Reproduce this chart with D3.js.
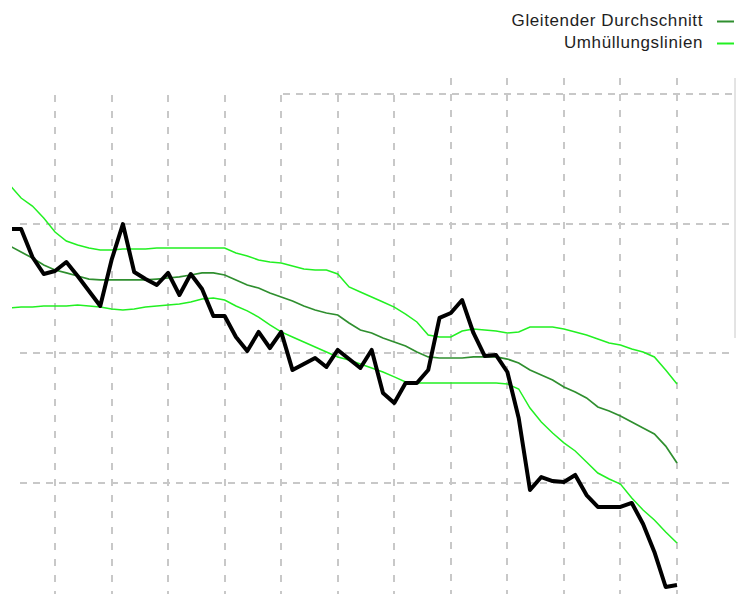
<!DOCTYPE html>
<html>
<head>
<meta charset="utf-8">
<script src="https://cdn.jsdelivr.net/npm/d3@7"></script>
<style>
  html, body { margin: 0; padding: 0; background: #fff; }
  svg { display: block; }
</style>
</head>
<body>
<svg id="chart" width="736" height="594"></svg>
<script>
// Closing prices, one per trading period
const price = [
  29.59, 29.59, 27.43, 26.12, 26.35, 27.04, 25.96, 24.81, 23.65, 27.20,
  29.97, 26.27, 25.73, 25.27, 26.20, 24.50, 26.12, 24.96, 22.88, 22.88,
  21.26, 20.18, 21.65, 20.41, 21.65, 18.71, 19.18, 19.64, 18.95, 20.26,
  19.56, 18.87, 20.26, 16.94, 16.17, 17.71, 17.71, 18.71, 22.73, 23.11,
  24.11, 21.57, 19.79, 19.87, 18.56, 15.01, 9.46, 10.46, 10.15, 10.08,
  10.62, 9.07, 8.15, 8.15, 8.15, 8.46, 6.84, 4.68, 1.98, 2.13
];

// Moving average ("Gleitender Durchschnitt")
const movingAverage = [
  28.28, 27.81, 27.35, 26.81, 26.43, 26.20, 25.96, 25.73, 25.66, 25.66,
  25.66, 25.66, 25.66, 25.73, 25.81, 25.89, 26.04, 26.20, 26.20, 26.04,
  25.66, 25.27, 25.04, 24.65, 24.34, 24.04, 23.65, 23.34, 23.11, 22.96,
  22.34, 21.80, 21.57, 21.18, 20.87, 20.57, 20.10, 19.72, 19.64, 19.64,
  19.64, 19.72, 19.72, 19.72, 19.56, 19.25, 18.71, 18.33, 17.94, 17.40,
  17.02, 16.56, 15.86, 15.55, 15.17, 14.70, 14.24, 13.78, 12.85, 11.54
];

// Envelope bands ("Umhüllungslinien")
const upperEnvelope = [
  32.98, 31.98, 31.36, 30.44, 29.36, 28.66, 28.35, 28.12, 27.97, 27.97,
  28.05, 28.05, 28.05, 28.12, 28.12, 28.12, 28.12, 28.12, 28.12, 28.12,
  27.74, 27.51, 27.20, 27.04, 26.97, 26.74, 26.50, 26.43, 26.43, 26.12,
  25.12, 24.73, 24.34, 23.96, 23.57, 23.03, 22.42, 21.41, 21.26, 21.26,
  21.72, 21.88, 21.80, 21.72, 21.57, 21.65, 22.03, 22.03, 22.03, 21.88,
  21.65, 21.41, 21.11, 20.80, 20.64, 20.33, 20.10, 19.72, 18.71, 17.64
];
const lowerEnvelope = [
  23.50, 23.57, 23.57, 23.65, 23.65, 23.65, 23.73, 23.65, 23.57, 23.42,
  23.34, 23.42, 23.57, 23.65, 23.73, 23.80, 23.96, 24.19, 24.27, 24.11,
  23.65, 23.27, 22.80, 22.19, 21.65, 21.26, 20.87, 20.49, 20.10, 19.72,
  19.49, 19.18, 18.87, 18.56, 18.18, 17.79, 17.71, 17.71, 17.71, 17.71,
  17.71, 17.71, 17.71, 17.71, 17.64, 17.25, 15.78, 14.70, 13.86, 13.09,
  12.47, 11.62, 10.77, 10.31, 9.92, 8.84, 7.92, 7.15, 6.22, 5.37
];

// Period positions where the vertical grid lines sit, and value grid levels
const xGridTicks = [4, 9, 14, 19, 24, 29, 34, 39, 44, 49, 54, 59];
const yGridTicks = [40, 30, 20, 10];

const legendLabels = ["Gleitender Durchschnitt", "Umhüllungslinien"];
const legendColors = ["#2f8f2f", "#22f022"];

const svg = d3.select("#chart");

const x = d3.scaleLinear().domain([0, price.length - 1]).range([9.8, 677]);
const y = d3.scaleLinear().domain([10, 40]).range([483, 94]);

// Grid
const grid = svg.append("g").attr("class", "grid")
  .attr("stroke", "#c8c8c8").attr("stroke-width", 2).attr("fill", "none");

grid.selectAll("line.v").data(xGridTicks).join("line")
  .attr("class", "v")
  .attr("x1", d => Math.round(x(d))).attr("x2", d => Math.round(x(d)))
  .attr("y1", d => x(d) > 440 ? 78 : 95)
  .attr("y2", 594)
  .attr("stroke-dasharray", "7,9");

grid.selectAll("line.h").data(yGridTicks).join("line")
  .attr("class", "h")
  .attr("x1", d => d === 40 ? 283 : 20).attr("x2", 734)
  .attr("y1", d => Math.round(y(d))).attr("y2", d => Math.round(y(d)))
  .attr("stroke-dasharray", "7,6");

svg.append("line")
  .attr("x1", 735).attr("x2", 735).attr("y1", 78).attr("y2", 338)
  .attr("stroke", "#c8c8c8").attr("stroke-width", 1);

// Series
svg.append("clipPath").attr("id", "plot-clip")
  .append("rect").attr("x", 12).attr("y", 0).attr("width", 724).attr("height", 594);

const plot = svg.append("g").attr("clip-path", "url(#plot-clip)");

const line = d3.line().x((d, i) => x(i)).y(d => y(d));

plot.append("path").datum(upperEnvelope)
  .attr("d", line).attr("fill", "none")
  .attr("stroke", legendColors[1]).attr("stroke-width", 1.5);
plot.append("path").datum(lowerEnvelope)
  .attr("d", line).attr("fill", "none")
  .attr("stroke", legendColors[1]).attr("stroke-width", 1.5);
plot.append("path").datum(movingAverage)
  .attr("d", line).attr("fill", "none")
  .attr("stroke", legendColors[0]).attr("stroke-width", 1.7);
plot.append("path").datum(price)
  .attr("d", line).attr("fill", "none")
  .attr("stroke", "#000").attr("stroke-width", 4)
  .attr("stroke-linejoin", "round");

// Legend
const legend = svg.append("g").attr("class", "legend");
const rows = legend.selectAll("g").data(legendLabels).join("g")
  .attr("transform", (d, i) => `translate(0, ${i === 0 ? 26 : 48})`);
rows.append("text")
  .attr("x", 703).attr("text-anchor", "end")
  .attr("font-family", "'Liberation Sans', Arial, sans-serif")
  .attr("font-size", 17).attr("letter-spacing", 0.6).attr("fill", "#1e1e1e")
  .text(d => d);
rows.append("line")
  .attr("x1", 717).attr("x2", 734).attr("y1", -4.5).attr("y2", -4.5)
  .attr("stroke", (d, i) => legendColors[i]).attr("stroke-width", 2);
</script>
</body>
</html>
